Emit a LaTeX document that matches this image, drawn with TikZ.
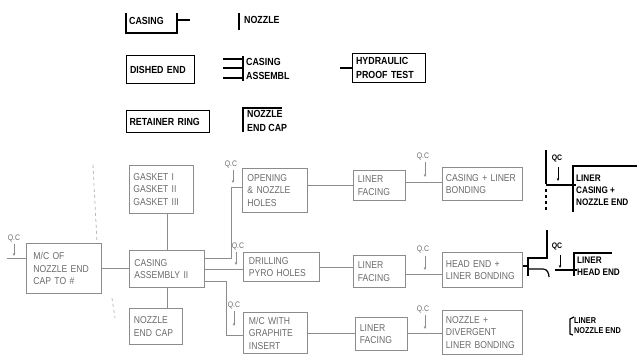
\documentclass[tikz,border=0pt]{standalone}
\usepackage{fontspec}
\setmainfont{Liberation Sans}[FakeStretch=0.86]
\usetikzlibrary{arrows.meta}
\definecolor{lc}{HTML}{8C8C8C}
\definecolor{tc}{HTML}{6A6A6A}
\newcommand{\gfnt}{\fontsize{10}{12.5}\selectfont}
\newcommand{\qfnt}{\fontsize{8}{10}\selectfont}
\newcommand{\tfnt}{\bfseries\fontsize{10.3}{14}\selectfont}
\begin{document}
\begin{tikzpicture}[x=1pt,y=-1pt,
  gbox/.style={draw=lc, line width=0.9pt, anchor=north west, inner sep=0pt, align=left, font=\gfnt, text=tc},
  tbox/.style={draw=black, line width=1.2pt, anchor=north west, inner sep=0pt, align=left, font=\tfnt},
  ttxt/.style={anchor=west, inner sep=0pt, align=left, font=\tfnt},
  gl/.style={draw=lc, line width=0.9pt},
  tl/.style={draw=black, line width=1.2pt},
  qtxt/.style={inner sep=0pt, font=\qfnt, text=tc},
  qtxtb/.style={inner sep=0pt, font=\bfseries\qfnt},
  qa/.style={draw=lc, line width=0.8pt, -{Stealth[length=3pt,width=2.6pt]}},
  qab/.style={draw=black, line width=0.9pt, -{Stealth[length=3pt,width=2.6pt]}},
  art/.style={draw=lc!60, line width=0.8pt, dashed}
]
\useasboundingbox (0,0) rectangle (637,355);

% ---------- top group ----------
\node[ttxt] (casing) at (129,21) {CASING};
\draw[tl] (126,13) -- (126,33) -- (177,33) -- (177,13);
\draw[tl] (177,20) -- (190,20);

\node[ttxt] (nozzle) at (244,20) {NOZZLE};
\draw[tl] (239,13) -- (239,30);

\node[tbox, minimum width=68pt, minimum height=28pt, text width=61pt] (dished) at (126,55) {DISHED END};

\node[ttxt] (casasm) at (246,69) {CASING\\ASSEMBL};
\draw[tl] (243,56) -- (243,81);
\draw[tl] (223,59) -- (243,59);
\draw[tl] (223,68) -- (243,68);
\draw[tl] (223,78) -- (243,78);

\node[tbox, minimum width=73pt, minimum height=29pt, text width=66pt] (hydro) at (352,53) {HYDRAULIC\\PROOF TEST};
\coordinate (hyin) at (340,68);
\draw[tl] (hyin) -- (hyin -| hydro.west);

\node[tbox, minimum width=83pt, minimum height=22pt, text width=77pt] (retainer) at (126,110) {RETAINER RING};

\node[ttxt] (nozcapt) at (247,120.5) {NOZZLE\\END CAP};
\draw[tl] (243,132) -- (243,108) -- (282,108);

% ---------- main flow ----------
\node[gbox, minimum width=75pt, minimum height=50pt, text width=61pt] (mc) at (26,243) {M/C OF\\NOZZLE END\\CAP TO \#};
\node[gbox, minimum width=64pt, minimum height=48pt, text width=56pt] (gas) at (129,165) {GASKET I\\GASKET II\\GASKET III};
\node[gbox, minimum width=75pt, minimum height=37pt, text width=65pt] (cas) at (129,250) {CASING\\ASSEMBLY II};
\node[gbox, minimum width=53pt, minimum height=36pt, text width=44pt] (ncap) at (129,308) {NOZZLE\\END CAP};

\node[gbox, minimum width=65pt, minimum height=44pt, text width=55pt] (open) at (242,168) {OPENING\\\& NOZZLE\\HOLES};
\node[gbox, minimum width=76pt, minimum height=29pt, text width=65pt] (drill) at (243,252) {DRILLING\\PYRO HOLES};
\node[gbox, minimum width=64pt, minimum height=41pt, text width=53pt] (graph) at (243,312) {M/C WITH\\GRAPHITE\\INSERT};

\node[gbox, minimum width=52pt, minimum height=30pt, text width=43pt] (lf1) at (353,170) {LINER\\FACING};
\node[gbox, minimum width=52pt, minimum height=32pt, text width=43pt] (lf2) at (353,255) {LINER\\FACING};
\node[gbox, minimum width=52pt, minimum height=33pt, text width=43pt] (lf3) at (355,317) {LINER\\FACING};

\node[gbox, minimum width=80pt, minimum height=33pt, text width=73pt] (b1) at (442,167) {CASING + LINER\\BONDING};
\node[gbox, minimum width=80pt, minimum height=35pt, text width=73pt] (b2) at (442,252) {HEAD END +\\LINER BONDING};
\node[gbox, minimum width=80pt, minimum height=44pt, text width=73pt] (b3) at (442,310) {NOZZLE +\\DIVERGENT\\LINER BONDING};

% connectors
\coordinate (qin) at (7,258);
\draw[gl] (qin) -- (qin -| mc.west);
\draw[gl] (mc.east) -- (mc.east -| cas.west);
\draw[gl] (cas.north |- gas.south) -- (cas.north);
\draw[gl] (cas.south) -- (cas.south |- ncap.north);

\coordinate (j1) at (231,187);
\coordinate (j3) at (226,335);
\draw[gl] (cas.east |- 0,258) -| (j1) -- (j1 -| open.west);
\draw[gl] (cas.east |- 0,269) -- (drill.west |- 0,269);
\draw[gl] (cas.east |- 0,281) -| (j3) -- (j3 -| graph.west);

\draw[gl] (open.east |- 0,185) -- (lf1.west |- 0,185);
\draw[gl] (drill.east |- 0,267) -- (lf2.west |- 0,267);
\draw[gl] (graph.east |- 0,333) -- (lf3.west |- 0,333);

\draw[gl] (lf1.east |- 0,182) -- (b1.west |- 0,182);
\draw[gl] (lf2.east |- 0,274) -- (b2.west |- 0,274);
\draw[gl] (lf3.east |- 0,333) -- (b3.west |- 0,333);

% QC marks
\node[qtxt] (q0) at (14,238) {Q.C};
\draw[qa] (14,244) -- (14,256);
\node[qtxt] (q1) at (231,164) {Q.C};
\draw[qa] (233,170) -- (233,183);
\node[qtxt] (q2) at (238,246) {Q.C};
\draw[qa] (236,252) -- (236,265);
\node[qtxt] (q3) at (234,305) {Q.C};
\draw[qa] (234,311) -- (234,326);
\node[qtxt] (q4) at (423,156) {Q.C};
\draw[qa] (425,162) -- (425,177);
\node[qtxt] (q5) at (423,249) {Q.C};
\draw[qa] (425,256) -- (425,270);
\node[qtxt] (q6) at (423,309) {Q.C};
\draw[qa] (425,315) -- (425,329);

% scan fold marks
\draw[art] (93,165) -- (97,242);
\draw[art] (112,298) -- (115,318);

% ---------- right group ----------
\node[qtxtb] (qr1) at (557,158) {QC};
\draw[qab] (558,167) -- (558,181);
\draw[tl] (546,150) -- (546,184);
\draw[tl, dashed] (546,189) -- (546,212);
\node[ttxt, font=\bfseries\fontsize{9.5}{12}\selectfont] (r1) at (576,190) {LINER\\CASING +\\NOZZLE END};
\draw[tl] (546,185) -- (r1.west |- 0,185);
\draw[tl] (573,212) -- (573,166) -- (637,166);

\node[qtxtb] (qr2) at (557,246) {QC};
\draw[qab] (560,255) -- (560,268);
\draw[tl] (547,230) -- (547,259);
\draw[tl] (b2.east |- 0,266) -- (528,266);
\draw[tl] (528,257) -- (528,276);
\draw[tl] (528,258) -- (547,258);
\draw[tl] (528,269) -- (543,269) .. controls (547,269) and (549,273) .. (549,277);
\node[ttxt, font=\bfseries\fontsize{9.5}{12}\selectfont] (r2) at (577,266) {LINER\\HEAD END};
\draw[tl] (555,270) -- (r2.west |- 0,270);
\draw[tl] (574,276) -- (574,253) -- (612,253);

\node[ttxt, font=\bfseries\fontsize{8.5}{10}\selectfont] (r3) at (574,326) {LINER\\NOZZLE END};
\draw[tl] (574,317) -- (570,319) -- (570,334) -- (573,335);
\end{tikzpicture}
\end{document}
